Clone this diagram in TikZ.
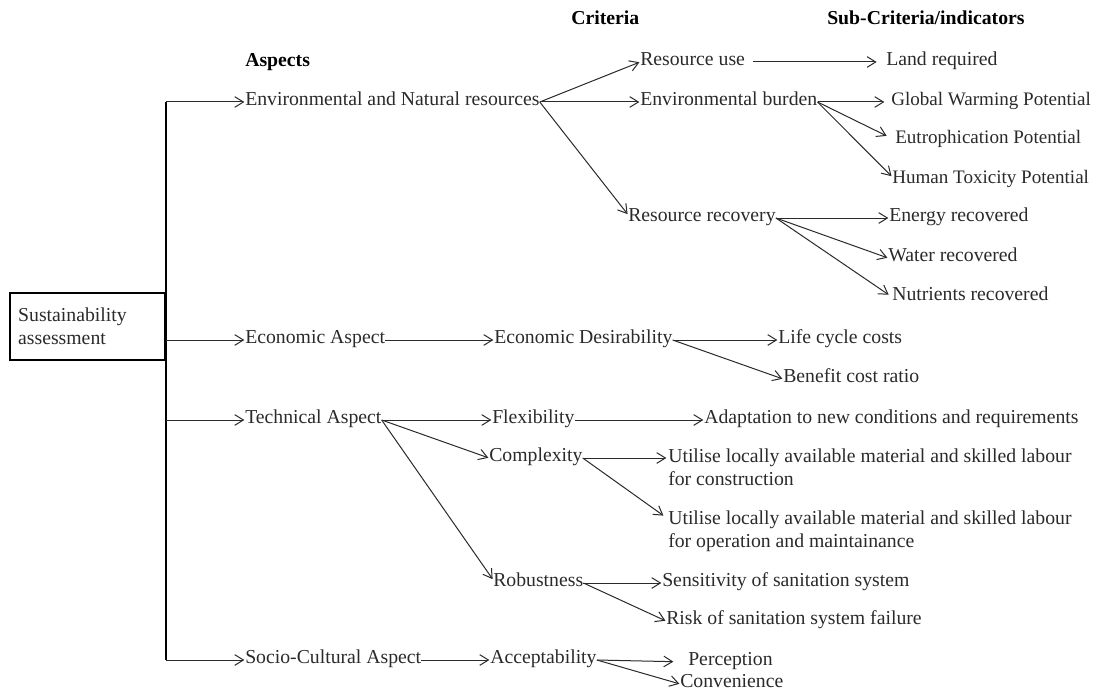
\documentclass[tikz,border=0pt]{standalone}
\usepackage{fontspec}
\setmainfont{Liberation Serif}
\usetikzlibrary{arrows.meta}
\definecolor{ink}{HTML}{2A2A2A}
\tikzset{
  x=0.75pt, y=-0.75pt,
  txt/.style={inner sep=0pt, anchor=west, text height=1ex, text depth=0pt,
    font=\fontsize{14.8}{17.25}\selectfont, text=ink},
  txtr/.style={txt, font=\fontsize{14.3}{17.25}\selectfont},
  txt2/.style={inner sep=0pt, anchor=north west, align=left,
    font=\fontsize{14.8}{17.25}\selectfont, text=ink},
  hdr/.style={inner sep=0pt, anchor=west, text height=1.4ex, text depth=0pt,
    font=\bfseries\fontsize{14.8}{17}\selectfont, text=black},
  arr/.style={draw=ink, line width=0.75pt,
    -{Straight Barb[length=6.5pt,width=8pt]}, shorten >=0.5pt},
  trunk/.style={draw=black, line width=1pt},
}
\begin{document}
\begin{tikzpicture}
\useasboundingbox (0,0) rectangle (1100,692);

% column headings
\node[hdr] (hA) at (245,62) {Aspects};
\node[hdr] (hC) at (571,20) {Criteria};
\node[hdr] (hS) at (827,20) {Sub-Criteria/indicators};

% root
\node[draw=black, line width=1.5pt, minimum width=116.25pt, minimum height=50.25pt,
      inner sep=0pt, text width=104pt, align=left,
      font=\fontsize{14.8}{17.25}\selectfont, text=ink]
      (sa) at (87.5,326.5) {Sustainability\\assessment};

% aspects
\node[txt] (env) at (245,102) {Environmental and Natural resources};
\node[txt] (eco) at (245,340) {Economic Aspect};
\node[txt] (tec) at (245,420) {Technical Aspect};
\node[txt] (soc) at (245,660) {Socio-Cultural Aspect};

% criteria
\node[txt] (ru)   at (640,62)  {Resource use};
\node[txt] (eb)   at (640,102) {Environmental burden};
\node[txt] (rr)   at (628,218) {Resource recovery};
\node[txt] (ed)   at (494,340) {Economic Desirability};
\node[txt] (flex) at (492,420) {Flexibility};
\node[txt] (comp) at (489,458) {Complexity};
\node[txt] (rob)  at (493,583) {Robustness};
\node[txt] (acc)  at (490,660) {Acceptability};

% sub-criteria / indicators
\node[txt]  (lr)   at (886,62)  {Land required};
\node[txtr] (gwp)  at (891,102) {Global Warming Potential};
\node[txtr] (eut)  at (895,140) {Eutrophication Potential};
\node[txtr] (htp)  at (892,180) {Human Toxicity Potential};
\node[txt]  (er)   at (889,218) {Energy recovered};
\node[txt]  (wr)   at (888,258) {Water recovered};
\node[txt]  (nr)   at (892,297) {Nutrients recovered};
\node[txt]  (lcc)  at (778,340) {Life cycle costs};
\node[txt]  (bcr)  at (783,379) {Benefit cost ratio};
\node[txt]  (ad)   at (704,420) {Adaptation to new conditions and requirements};
\coordinate (u1in) at (667,458);
\node[txt2] (u1) at (668,449) {Utilise locally available material and skilled labour\\for construction};
\coordinate (u2in) at (664,516);
\node[txt2] (u2) at (668,511) {Utilise locally available material and skilled labour\\for operation and maintainance};
\node[txt] (sens) at (662,583) {Sensitivity of sanitation system};
\node[txt] (risk) at (666,621) {Risk of sanitation system failure};
\node[txt] (perc) at (688,662) {Perception};
\node[txt] (conv) at (680,684) {Convenience};

% trunk from the root box
\draw[trunk] (env.west -| sa.east) -- (soc.west -| sa.east);
\foreach \a in {env,eco,tec,soc}
  \draw[arr] (\a.west -| sa.east) -- (\a.west);

% aspects to criteria
\draw[arr] (env.east) -- (ru.west);
\draw[arr] (env.east) -- (eb.west);
\draw[arr] (env.east) -- (rr.north west);
\draw[arr] (eco.east) -- (ed.west);
\draw[arr] (tec.east) -- (flex.west);
\draw[arr] (tec.east) -- (comp.west);
\draw[arr] (tec.east) -- (rob.north west);
\draw[arr] (soc.east) -- (acc.west);

% criteria to indicators
\draw[arr, shorten <=6pt, shorten >=7pt] (ru.east) -- (lr.west);
\draw[arr, shorten >=5pt] (eb.east) -- (gwp.west);
\draw[arr, shorten >=7pt] (eb.east) -- (eut.west);
\draw[arr] (eb.east) -- (htp.north west);
\draw[arr] (rr.east) -- (er.west);
\draw[arr] (rr.east) -- (wr.west);
\draw[arr, shorten >=3pt] (rr.east) -- (nr.west);
\draw[arr] (ed.east) -- (lcc.west);
\draw[arr] (ed.east) -- (bcr.west);
\draw[arr] (flex.east) -- (ad.west);
\draw[arr] (comp.east) -- (u1in);
\draw[arr] (comp.east) -- (u2in);
\draw[arr] (rob.east) -- (sens.west);
\draw[arr] (rob.east) -- (risk.west);
\draw[arr, shorten >=11pt] (acc.east) -- (perc.west);
\draw[arr] (acc.east) -- (conv.west);
\end{tikzpicture}
\end{document}
